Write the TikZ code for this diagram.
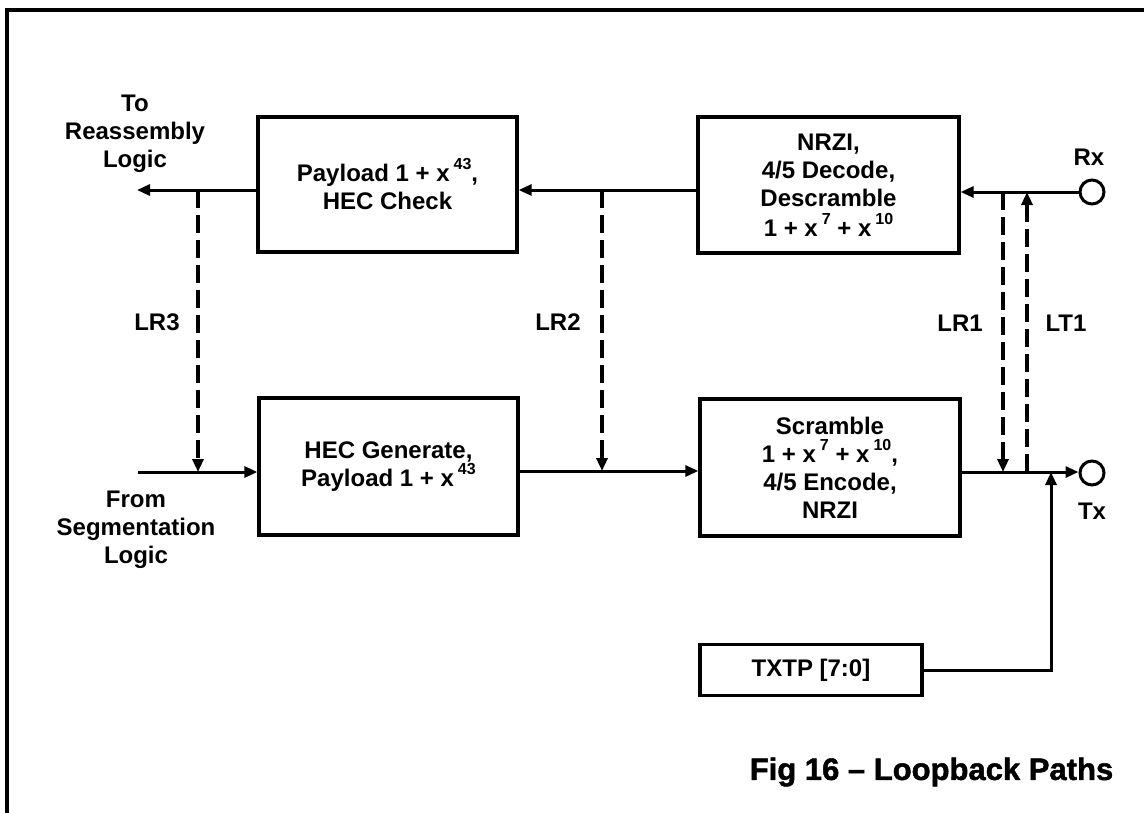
\documentclass[tikz,border=0pt]{standalone}
\usepackage{fontspec}
\setmainfont{Liberation Sans}
\newfontfamily\capfont{Liberation Sans}[FakeBold=1.5,Ligatures=TeX]
\usetikzlibrary{arrows.meta,calc}
\newcommand\spx[1]{\raisebox{0.5em}{\fontsize{16}{16}\selectfont #1}}
\begin{document}
\begin{tikzpicture}[x=1pt,y=-1pt,
  every node/.style={font=\bfseries\fontsize{24}{28}\selectfont, inner sep=0pt},
  blk/.style={draw, line width=3.3pt, align=center},
  port/.style={draw, circle, line width=3pt, minimum size=24pt},
  arr/.style={line width=3pt, -{Triangle[length=13pt,width=11pt]}},
  darr/.style={line width=3.3pt, dash pattern=on 18pt off 7pt, -{Triangle[length=13pt,width=11pt]}},
  lbl/.style={align=center}]
\clip (0,0) rectangle (1144,812);
\fill[white] (0,0) rectangle (1144,812);
% frame
\draw[line width=3.5pt] (7,830) -- (7,10) -- (1160,10);
% boxes
\node[blk, minimum width=259pt, minimum height=135pt] (pay) at (387.5,184.5)
  {\fontsize{24}{24}\selectfont Payload 1 + x\,\spx{43},\\HEC Check};
\node[blk, minimum width=261pt, minimum height=136pt] (nrzi) at (828.5,185)
  {\fontsize{24}{23}\selectfont NRZI,\\4/5 Decode,\\Descramble\\[1.5pt]1 + x\,\spx{7} + x\,\spx{10}};
\node[blk, minimum width=259pt, minimum height=137pt] (hec) at (388.5,466.5)
  {\fontsize{24}{27}\selectfont HEC Generate,\\Payload 1 + x\,\spx{43}};
\node[blk, minimum width=260pt, minimum height=137pt] (scr) at (830,467.5)
  {\fontsize{24}{27.5}\selectfont Scramble\\1 + x\,\spx{7} + x\,\spx{10},\\4/5 Encode,\\NRZI};
\node[blk, minimum width=222pt, minimum height=51pt] (txtp) at (811,670) {TXTP [7:0]};
% ports
\node[port] (rx) at (1092,192) {};
\node[port] (tx) at (1092,473) {};
\node (rxl) at (1089,157) {Rx};
\node (txl) at (1092,511) {Tx};
% side labels
\node[lbl] (tol) at (135,134) {To\\Reassembly\\Logic};
\node[lbl] (froml) at (136,530) {From\\Segmentation\\Logic};
\node (lr3) at (157,322) {LR3};
\node (lr2) at (558,322) {LR2};
\node (lr1) at (960,323) {LR1};
\node (lt1) at (1066,323) {LT1};
\node (cap) at (931.5,772) {\capfont\bfseries\fontsize{31}{31}\selectfont Fig 16 – Loopback Paths};
% coordinates
\coordinate (toEnd) at (137,190);
\coordinate (fromStart) at (138,472);
\coordinate (lr3top) at (198,190);
\coordinate (lr3bot) at (198,472);
\coordinate (lr2top) at (602,190);
\coordinate (lr2bot) at (602,471);
\coordinate (lr1top) at (1003,192);
\coordinate (lr1bot) at (1003,472);
\coordinate (lt1bot) at (1027,472);
\coordinate (lt1top) at (1027,192);
\coordinate (tpc) at (1051,670);
\coordinate (tpt) at (1051,472);
% top row
\draw[arr] (rx.west) -- (rx.west -| nrzi.east);
\draw[arr] (nrzi.west |- lr2top) -- (pay.east |- lr2top);
\draw[arr] (pay.west |- toEnd) -- (toEnd);
% bottom row
\draw[arr] (fromStart) -- (fromStart -| hec.west);
\draw[arr] (hec.east |- lr2bot) -- (scr.west |- lr2bot);
\draw[arr] (scr.east |- lr1bot) -- (tx.west |- lr1bot);
% loopbacks
\draw[darr] (lr3top) -- (lr3bot);
\draw[darr] (lr2top) -- (lr2bot);
\draw[darr] (lr1top) -- (lr1bot);
\draw[darr] (lt1bot) -- (lt1top);
% TXTP
\draw[arr] (txtp.east |- tpc) -- (tpc) -- (tpt);
\end{tikzpicture}
\end{document}
